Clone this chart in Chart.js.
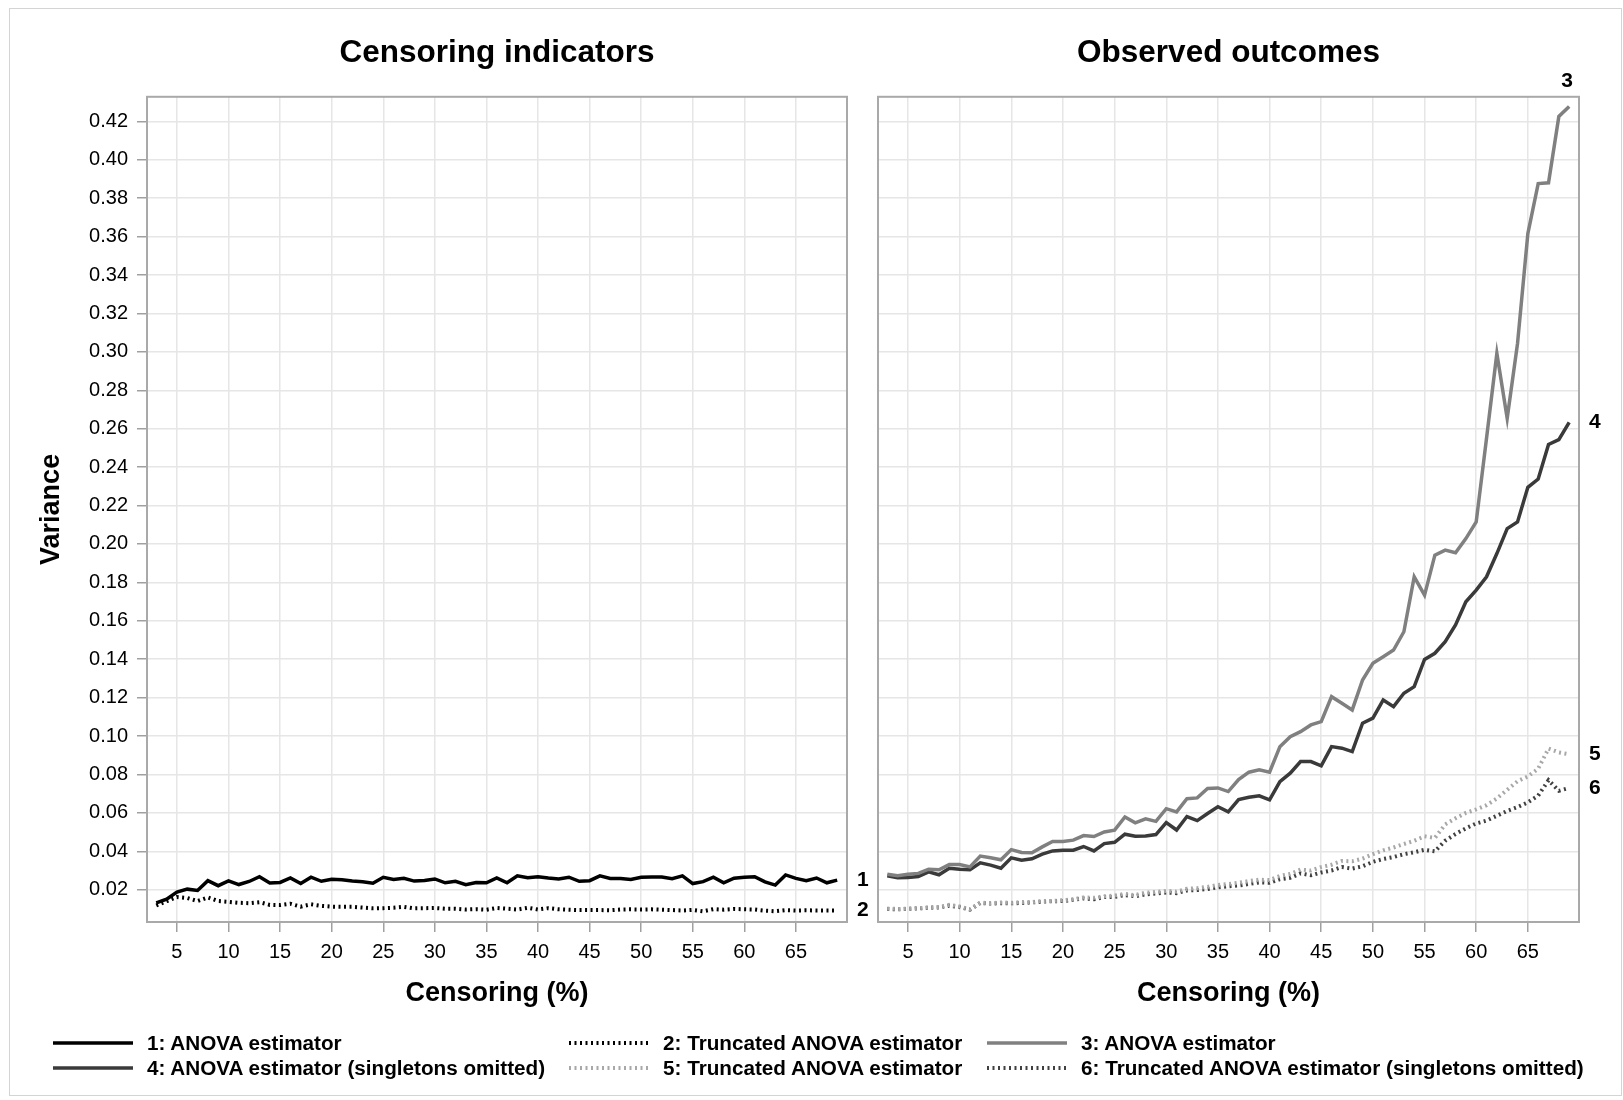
<!DOCTYPE html>
<html>
<head>
<meta charset="utf-8">
<title>Variance by censoring</title>
<script src="https://cdn.jsdelivr.net/npm/chart.js@4.4.1/dist/chart.umd.min.js"></script>
<style>
  html, body { margin: 0; padding: 0; background: #fff; }
  #page { position: relative; width: 1623px; height: 1100px; overflow: hidden; font-family: 'Liberation Sans', Arial, sans-serif; }
  #frame { position: absolute; left: 9px; top: 8px; width: 1613px; height: 1088px; border: 1px solid #d4d4d4; box-sizing: border-box; }
  canvas { position: absolute; left: 0; top: 0; }
  .key { position: absolute; height: 24px; display: flex; align-items: center; font-weight: bold; font-size: 20.7px; color: #000; white-space: nowrap; }
  .key svg { margin-right: 14px; }
</style>
</head>
<body>
<div id="page">
  <div id="frame"></div>
  <canvas id="left" width="1623" height="1100"></canvas>
  <canvas id="right" width="1623" height="1100"></canvas>
  <div id="legend"></div>
</div>
<script>
// censoring percentage on the x axis
const censoring = [3, 4, 5, 6, 7, 8, 9, 10, 11, 12,
  13, 14, 15, 16, 17, 18, 19, 20, 21, 22,
  23, 24, 25, 26, 27, 28, 29, 30, 31, 32,
  33, 34, 35, 36, 37, 38, 39, 40, 41, 42,
  43, 44, 45, 46, 47, 48, 49, 50, 51, 52,
  53, 54, 55, 56, 57, 58, 59, 60, 61, 62,
  63, 64, 65, 66, 67, 68, 69];

const xTicks = [5, 10, 15, 20, 25, 30, 35, 40, 45, 50, 55, 60, 65];
const yTicks = [0.02, 0.04, 0.06, 0.08, 0.10, 0.12, 0.14, 0.16, 0.18, 0.20, 0.22,
  0.24, 0.26, 0.28, 0.30, 0.32, 0.34, 0.36, 0.38, 0.40, 0.42];

// censoring indicators
const anovaInd = [0.0131, 0.0151, 0.0188, 0.0203, 0.0196, 0.0247, 0.0221, 0.0246, 0.0227, 0.0243,
  0.0268, 0.0235, 0.0238, 0.0261, 0.0232, 0.0265, 0.0244, 0.0255, 0.0252, 0.0246,
  0.0242, 0.0234, 0.0265, 0.0253, 0.0260, 0.0245, 0.0248, 0.0256, 0.0236, 0.0244,
  0.0226, 0.0238, 0.0236, 0.0261, 0.0236, 0.0272, 0.0262, 0.0268, 0.0261, 0.0256,
  0.0265, 0.0244, 0.0247, 0.0272, 0.0259, 0.0259, 0.0253, 0.0265, 0.0266, 0.0266,
  0.0257, 0.0272, 0.0232, 0.0242, 0.0265, 0.0236, 0.0260, 0.0265, 0.0268, 0.0241,
  0.0224, 0.0277, 0.0259, 0.0247, 0.0261, 0.0236, 0.0250];
const truncInd = [0.0118, 0.0140, 0.0162, 0.0157, 0.0141, 0.0160, 0.0141, 0.0137, 0.0132, 0.0130,
  0.0135, 0.0121, 0.0120, 0.0127, 0.0112, 0.0124, 0.0116, 0.0112, 0.0111, 0.0111,
  0.0107, 0.0103, 0.0104, 0.0106, 0.0111, 0.0103, 0.0104, 0.0105, 0.0101, 0.0101,
  0.0097, 0.0099, 0.0096, 0.0105, 0.0101, 0.0097, 0.0106, 0.0097, 0.0104, 0.0098,
  0.0096, 0.0094, 0.0094, 0.0094, 0.0093, 0.0097, 0.0098, 0.0097, 0.0098, 0.0096,
  0.0094, 0.0092, 0.0095, 0.0088, 0.0099, 0.0096, 0.0100, 0.0098, 0.0097, 0.0091,
  0.0088, 0.0094, 0.0092, 0.0093, 0.0092, 0.0092, 0.0092];

// observed outcomes
const anovaObs = [0.0281, 0.0273, 0.0280, 0.0285, 0.0307, 0.0304, 0.0331, 0.0331, 0.0319, 0.0375,
  0.0366, 0.0356, 0.0409, 0.0394, 0.0392, 0.0423, 0.0451, 0.0451, 0.0458, 0.0482,
  0.0477, 0.0501, 0.0510, 0.0579, 0.0548, 0.0569, 0.0556, 0.0622, 0.0605, 0.0674,
  0.0678, 0.0727, 0.0730, 0.0711, 0.0773, 0.0812, 0.0824, 0.0812, 0.0945, 0.0997,
  0.1023, 0.1058, 0.1075, 0.1205, 0.1171, 0.1136, 0.1292, 0.1379, 0.1413, 0.1448,
  0.1543, 0.1829, 0.1734, 0.1942, 0.1968, 0.1954, 0.2028, 0.2115, 0.2550, 0.2992,
  0.2654, 0.3044, 0.3616, 0.3876, 0.3880, 0.4226, 0.4278];
const anovaObsNoSingle = [0.0273, 0.0262, 0.0264, 0.0269, 0.0293, 0.0278, 0.0312, 0.0307, 0.0304, 0.0340,
  0.0328, 0.0312, 0.0366, 0.0354, 0.0361, 0.0385, 0.0402, 0.0406, 0.0406, 0.0425,
  0.0402, 0.0440, 0.0447, 0.0489, 0.0479, 0.0480, 0.0487, 0.0549, 0.0511, 0.0581,
  0.0560, 0.0597, 0.0632, 0.0605, 0.0669, 0.0681, 0.0689, 0.0668, 0.0763, 0.0807,
  0.0867, 0.0867, 0.0845, 0.0945, 0.0937, 0.0919, 0.1067, 0.1093, 0.1188, 0.1153,
  0.1223, 0.1257, 0.1399, 0.1431, 0.1491, 0.1578, 0.1699, 0.1760, 0.1829, 0.1950,
  0.2080, 0.2115, 0.2295, 0.2338, 0.2518, 0.2543, 0.2633];
const truncObs = [0.0102, 0.0100, 0.0101, 0.0104, 0.0108, 0.0110, 0.0121, 0.0113, 0.0098, 0.0133,
  0.0130, 0.0134, 0.0132, 0.0136, 0.0135, 0.0142, 0.0141, 0.0146, 0.0150, 0.0160,
  0.0158, 0.0166, 0.0170, 0.0178, 0.0172, 0.0185, 0.0188, 0.0194, 0.0190, 0.0205,
  0.0208, 0.0215, 0.0225, 0.0230, 0.0236, 0.0245, 0.0252, 0.0250, 0.0272, 0.0282,
  0.0305, 0.0300, 0.0318, 0.0330, 0.0350, 0.0348, 0.0362, 0.0385, 0.0405, 0.0420,
  0.0438, 0.0455, 0.0478, 0.0470, 0.0540, 0.0572, 0.0600, 0.0618, 0.0640, 0.0675,
  0.0720, 0.0765, 0.0790, 0.0830, 0.0935, 0.0915, 0.0905];
const truncObsNoSingle = [0.0100, 0.0098, 0.0100, 0.0103, 0.0106, 0.0108, 0.0117, 0.0110, 0.0096, 0.0131,
  0.0128, 0.0130, 0.0129, 0.0131, 0.0134, 0.0138, 0.0140, 0.0141, 0.0148, 0.0155,
  0.0150, 0.0162, 0.0163, 0.0172, 0.0166, 0.0176, 0.0180, 0.0186, 0.0182, 0.0196,
  0.0198, 0.0204, 0.0212, 0.0218, 0.0222, 0.0230, 0.0238, 0.0236, 0.0255, 0.0262,
  0.0285, 0.0275, 0.0290, 0.0300, 0.0318, 0.0310, 0.0322, 0.0345, 0.0360, 0.0370,
  0.0385, 0.0395, 0.0408, 0.0400, 0.0455, 0.0490, 0.0520, 0.0545, 0.0560, 0.0585,
  0.0610, 0.0630, 0.0655, 0.0690, 0.0770, 0.0715, 0.0730];

const FONT = "'Liberation Sans', Arial, sans-serif";
Chart.defaults.font.family = FONT;
Chart.defaults.color = '#000';

const DOT = [2, 3.5];
const series = [
  { tag: '1', name: 'ANOVA estimator', values: anovaInd, color: '#000000', dash: [], panel: 'left' },
  { tag: '2', name: 'Truncated ANOVA estimator', values: truncInd, color: '#000000', dash: DOT, panel: 'left' },
  { tag: '3', name: 'ANOVA estimator', values: anovaObs, color: '#808080', dash: [], panel: 'right', above: true },
  { tag: '4', name: 'ANOVA estimator (singletons omitted)', values: anovaObsNoSingle, color: '#3a3a3a', dash: [], panel: 'right' },
  { tag: '5', name: 'Truncated ANOVA estimator', values: truncObs, color: '#a8a8a8', dash: DOT, panel: 'right' },
  { tag: '6', name: 'Truncated ANOVA estimator (singletons omitted)', values: truncObsNoSingle, color: '#404040', dash: DOT, panel: 'right' }
];

// grey box round each panel
const panelFrame = {
  id: 'panelFrame',
  afterDraw(chart) {
    const { ctx, chartArea: a } = chart;
    ctx.save();
    ctx.strokeStyle = '#a9a9a9';
    ctx.lineWidth = 2;
    ctx.strokeRect(a.left, a.top, a.right - a.left, a.bottom - a.top);
    ctx.restore();
  }
};

// numbers at the end of each curve
const curveTags = {
  id: 'curveTags',
  afterDatasetsDraw(chart) {
    const { ctx, chartArea: a } = chart;
    ctx.save();
    ctx.font = 'bold 21px ' + FONT;
    ctx.fillStyle = '#000';
    chart.data.datasets.forEach((ds, i) => {
      const pts = chart.getDatasetMeta(i).data;
      const last = pts[pts.length - 1];
      ctx.textBaseline = 'middle';
      if (ds.above) {
        ctx.textAlign = 'center';
        ctx.fillText(ds.tag, last.x - 2, a.top - 16);
      } else {
        ctx.textAlign = 'left';
        ctx.fillText(ds.tag, a.right + 10, last.y);
      }
    });
    ctx.restore();
  }
};

function makeChart(id, panel, title, padLeft, padRight, withYAxis) {
  const datasets = series.filter(s => s.panel === panel).map(s => ({
    label: s.tag + ': ' + s.name,
    tag: s.tag,
    above: !!s.above,
    data: censoring.map((c, i) => ({ x: c, y: s.values[i] })),
    borderColor: s.color,
    borderDash: s.dash,
    borderWidth: s.dash.length ? 4 : 3.5,
    pointRadius: 0,
    fill: false,
    tension: 0
  }));

  return new Chart(document.getElementById(id), {
    type: 'line',
    data: { datasets },
    plugins: [curveTags, panelFrame],
    options: {
      responsive: false,
      animation: false,
      events: [],
      layout: { padding: { left: padLeft, right: padRight, top: 0, bottom: 85 } },
      plugins: {
        legend: { display: false },
        tooltip: { enabled: false },
        title: {
          display: true,
          text: title,
          fullSize: false,
          font: { size: 31.5, weight: 'bold' },
          color: '#000',
          padding: { top: 34, bottom: 25 }
        }
      },
      scales: {
        x: {
          type: 'linear',
          min: 2.1,
          max: 69.95,
          afterBuildTicks: sc => { sc.ticks = xTicks.map(v => ({ value: v })); },
          afterFit: sc => { sc.height = 93; },
          ticks: { font: { size: 20 }, padding: 8, color: '#000' },
          grid: { color: '#e6e6e6', lineWidth: 1.5, tickColor: '#a0a0a0', tickLength: 10 },
          border: { display: false },
          title: {
            display: true,
            text: 'Censoring (%)',
            font: { size: 27, weight: 'bold' },
            color: '#000',
            padding: { top: 0, bottom: 5 }
          }
        },
        y: {
          min: 0.0032,
          max: 0.4328,
          afterBuildTicks: sc => { sc.ticks = yTicks.map(v => ({ value: v })); },
          afterFit: sc => { sc.width = withYAxis ? 147 : 0; },
          ticks: {
            display: withYAxis,
            font: { size: 20 },
            padding: 9,
            color: '#000',
            callback: v => v.toFixed(2)
          },
          grid: { color: '#e6e6e6', lineWidth: 1.5, tickColor: '#a0a0a0', tickLength: 10, drawTicks: withYAxis },
          border: { display: false },
          title: {
            display: withYAxis,
            text: 'Variance',
            font: { size: 27, weight: 'bold' },
            color: '#000',
            padding: { top: 35, bottom: 0 }
          }
        }
      }
    }
  });
}

makeChart('left', 'left', 'Censoring indicators', 0, 1623 - 847, true);
makeChart('right', 'right', 'Observed outcomes', 878, 1623 - 1579, false);

// legend in three columns, two rows
const keyCols = [53, 569, 987];
const keyRows = [1031, 1056];
const legend = document.getElementById('legend');
series.forEach((s, i) => {
  const item = document.createElement('div');
  item.className = 'key';
  item.style.left = keyCols[i % 3] + 'px';
  item.style.top = keyRows[Math.floor(i / 3)] + 'px';
  const dash = s.dash.length ? ` stroke-dasharray="${s.dash.join(' ')}"` : '';
  const w = s.dash.length ? 4 : 3.5;
  item.innerHTML = `<svg width="80" height="8"><line x1="0" y1="4" x2="80" y2="4" stroke="${s.color}" stroke-width="${w}"${dash}/></svg><span>${s.tag}: ${s.name}</span>`;
  legend.appendChild(item);
});
</script>
</body>
</html>
